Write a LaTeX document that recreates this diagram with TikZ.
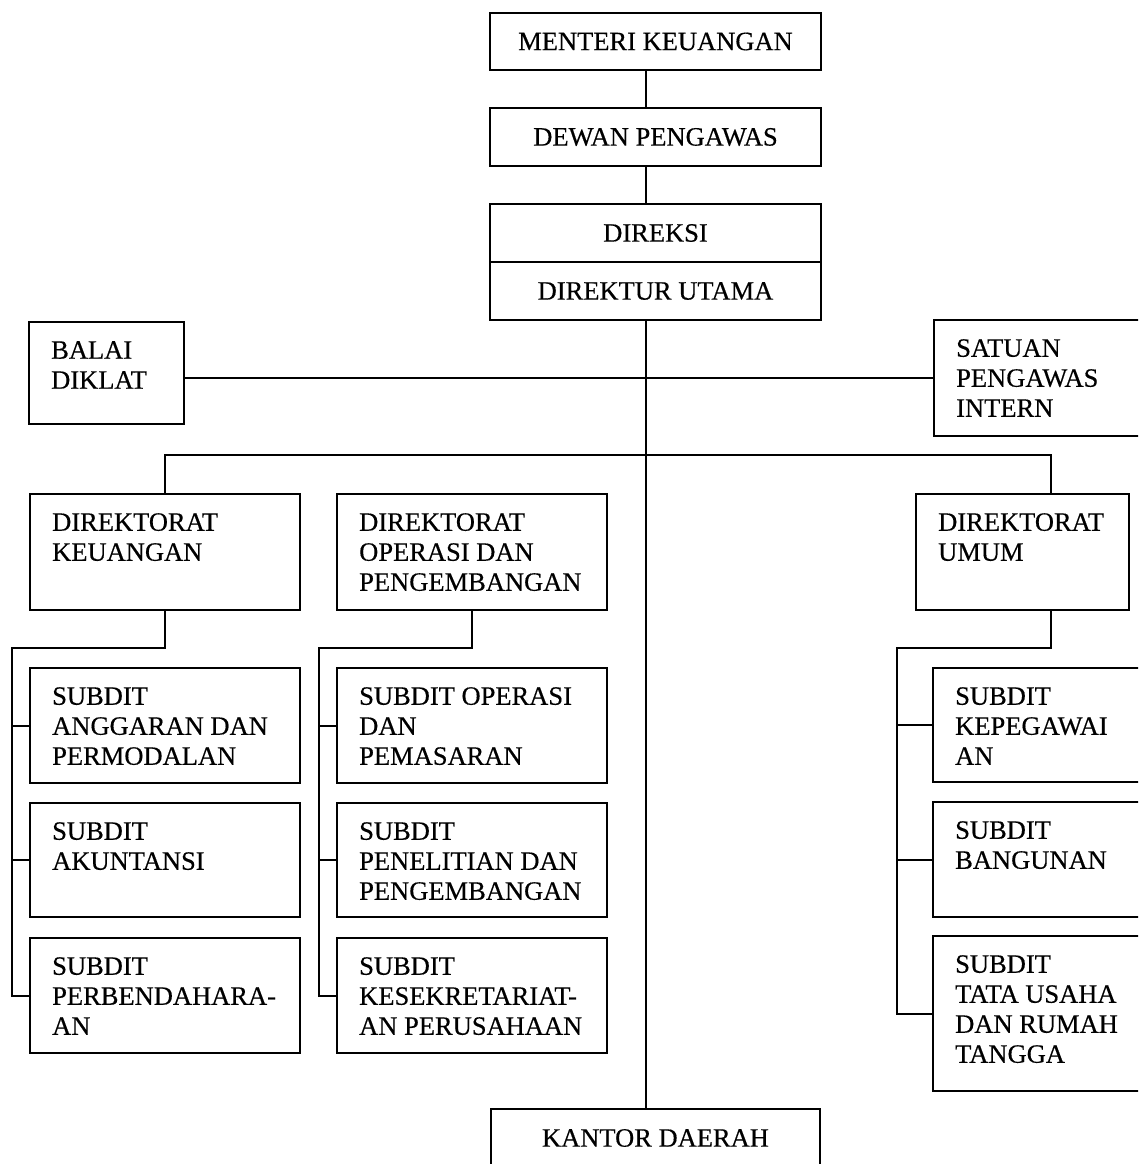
\documentclass[tikz,border=0pt]{standalone}
\usepackage{fontspec}
\setmainfont{Liberation Serif}[FakeBold=0.4]
\usetikzlibrary{calc}
\tikzset{
  box/.style={draw, line width=2pt, rectangle, inner sep=0pt, outer sep=0pt},
  lbl/.style={inner sep=0pt, anchor=north west, align=left, font=\fontsize{26.5}{30}\selectfont},
  ctr/.style={font=\fontsize{26.5}{30}\selectfont},
  conn/.style={line width=2pt},
}
\newcommand{\bx}[6]{%
  \node[box, anchor=north west, minimum width={(#4-#2)*1pt}, minimum height={(#5-#3)*1pt}] (#1) at (#2,#3) {};
  \node[lbl] (#1t) at ($(#1.north west)+(22,19)$) {#6};
}
\newcommand{\cbx}[6]{%
  \node[box, anchor=north west, minimum width={(#4-#2)*1pt}, minimum height={(#5-#3)*1pt}] (#1) at (#2,#3) {};
  \node[ctr] (#1t) at (#1.center) {#6};
}
\begin{document}
\begin{tikzpicture}[x=1pt,y=-1pt]
\clip (0,0) rectangle (1138,1164);
\fill[white] (0,0) rectangle (1138,1164);
% top chain
\cbx{menteri}{490}{13}{821}{70}{MENTERI KEUANGAN}
\cbx{dewan}{490}{108}{821}{166}{DEWAN PENGAWAS}
\cbx{direksi}{490}{204}{821}{262}{DIREKSI}
\cbx{dirut}{490}{262}{821}{320}{DIREKTUR UTAMA}
\cbx{kantor}{491}{1109}{820}{1167}{KANTOR DAERAH}
% staff
\bx{balai}{29}{322}{184}{424}{BALAI\\DIKLAT}
\bx{satuan}{934}{320}{1150}{436}{SATUAN\\PENGAWAS\\INTERN}
% directorates
\bx{dkeu}{30}{494}{300}{610}{DIREKTORAT\\KEUANGAN}
\bx{dops}{337}{494}{607}{610}{DIREKTORAT\\OPERASI DAN\\PENGEMBANGAN}
\bx{dumum}{916}{494}{1129}{610}{DIREKTORAT\\UMUM}
% subdits
\bx{sa}{30}{668}{300}{783}{SUBDIT\\ANGGARAN DAN\\PERMODALAN}
\bx{sb}{30}{803}{300}{917}{SUBDIT\\AKUNTANSI}
\bx{sc}{30}{938}{300}{1053}{SUBDIT\\PERBENDAHARA-\\AN}
\bx{sd}{337}{668}{607}{783}{SUBDIT OPERASI\\DAN\\PEMASARAN}
\bx{se}{337}{803}{607}{917}{SUBDIT\\PENELITIAN DAN\\PENGEMBANGAN}
\bx{sf}{337}{938}{607}{1053}{SUBDIT\\KESEKRETARIAT-\\AN PERUSAHAAN}
\bx{sg}{933}{668}{1150}{782}{SUBDIT\\KEPEGAWAI\\AN}
\bx{sh}{933}{802}{1150}{917}{SUBDIT\\BANGUNAN}
\bx{si}{933}{936}{1150}{1091}{SUBDIT\\TATA USAHA\\DAN RUMAH\\TANGGA}
% helper coordinates
\coordinate (tx) at (646,0);
\coordinate (ub) at (1051,455);
\coordinate (lk) at (12,648);
\coordinate (mk) at (319,648);
\coordinate (rk) at (897,648);
% connectors
\draw[conn] (menteri.south -| tx) -- (dewan.north -| tx);
\draw[conn] (dewan.south -| tx) -- (direksi.north -| tx);
\draw[conn] (dirut.south -| tx) -- (kantor.north -| tx);
\draw[conn] (satuan.west) -- (satuan.west -| balai.east);
\draw[conn] (dkeu.north) |- (ub) -- (ub |- dumum.north);
\draw[conn] (dkeu.south) |- (lk) |- (sc.west);
\draw[conn] (sa.west) -- (sa.west -| lk);
\draw[conn] (sb.west) -- (sb.west -| lk);
\draw[conn] (dops.south) |- (mk) |- (sf.west);
\draw[conn] (sd.west) -- (sd.west -| mk);
\draw[conn] (se.west) -- (se.west -| mk);
\draw[conn] (dumum.south -| ub) |- (rk) |- (si.west);
\draw[conn] (sg.west) -- (sg.west -| rk);
\draw[conn] (sh.west) -- (sh.west -| rk);
\end{tikzpicture}
\end{document}
